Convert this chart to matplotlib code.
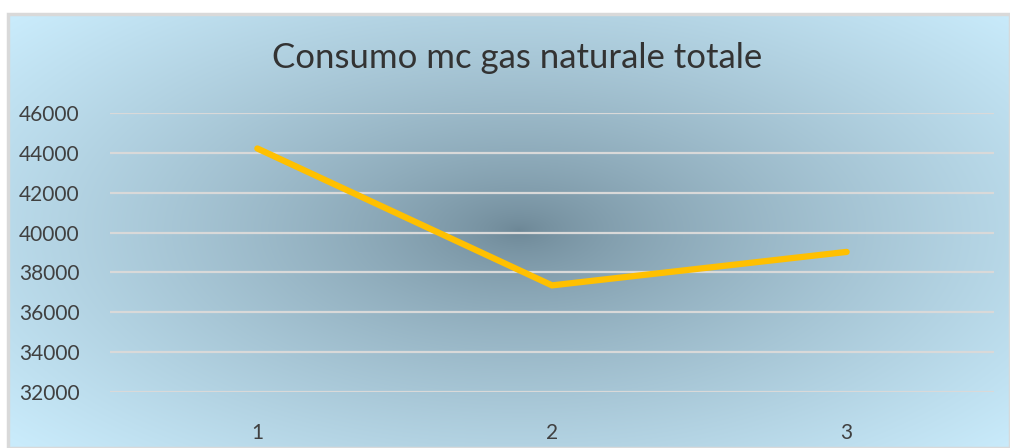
import numpy as np
import matplotlib
matplotlib.use("Agg")
import matplotlib.pyplot as plt
from matplotlib.patches import Rectangle

# data
categories = [1, 2, 3]
values = [44220, 37350, 39030]
yticks = [32000, 34000, 36000, 38000, 40000, 42000, 44000, 46000]

plt.rcParams['font.family'] = ['Lato', 'DejaVu Sans']

W, H = 1010, 448
fig = plt.figure(figsize=(W / 100, H / 100), dpi=100, facecolor='white')

# chart area with radial gradient
x0, y0 = 8 / W, 0
bg = fig.add_axes([x0, y0, 1 - x0, (H - 14) / H])
bg.set_axis_off()
ny, nx = 300, 700
gx, gy = np.meshgrid(np.linspace(-1, 1, nx), np.linspace(-1, 1, ny))
r = np.sqrt((gx - 0.02) ** 2 + (gy * 0.9) ** 2) / 1.35
t = np.clip(r, 0, 1) ** 0.7
dark = np.array([0x6c, 0x86, 0x95]) / 255
light = np.array([0xca, 0xec, 0xfc]) / 255
img = dark[None, None, :] * (1 - t[..., None]) + light[None, None, :] * t[..., None]
bg.imshow(img, extent=[0, 1, 0, 1], aspect='auto', interpolation='bilinear')
bg.set_xlim(0, 1)
bg.set_ylim(0, 1)
bg.add_patch(Rectangle((0, 0), 1, 1, transform=bg.transAxes, fill=False,
                       edgecolor='#d9d9d9', linewidth=2.5, clip_on=False))

# plot area
ax = fig.add_axes([110 / W, 56 / H, (994 - 110) / W, (392 - 113) / H])
ax.patch.set_alpha(0)
ax.plot(categories, values, color='#ffc000', linewidth=4.5,
        solid_capstyle='round', solid_joinstyle='miter', zorder=3)
ax.set_xlim(0.5, 3.5)
ax.set_ylim(32000, 46000)
ax.set_yticks(yticks)
ax.set_xticks(categories)
ax.set_yticklabels([str(v) for v in yticks])
ax.grid(axis='y', color='#d9d9d9', linewidth=1.6)
for s in ax.spines.values():
    s.set_visible(False)
ax.tick_params(axis='both', length=0, labelsize=15, labelcolor='#404040')
ax.tick_params(axis='y', pad=22)
ax.tick_params(axis='x', pad=22)

fig.text(517 / W, 1 - 58 / H, 'Consumo mc gas naturale totale', ha='center',
         va='center', fontsize=25, color='#333333')

fig.savefig('out.png', dpi=100)
